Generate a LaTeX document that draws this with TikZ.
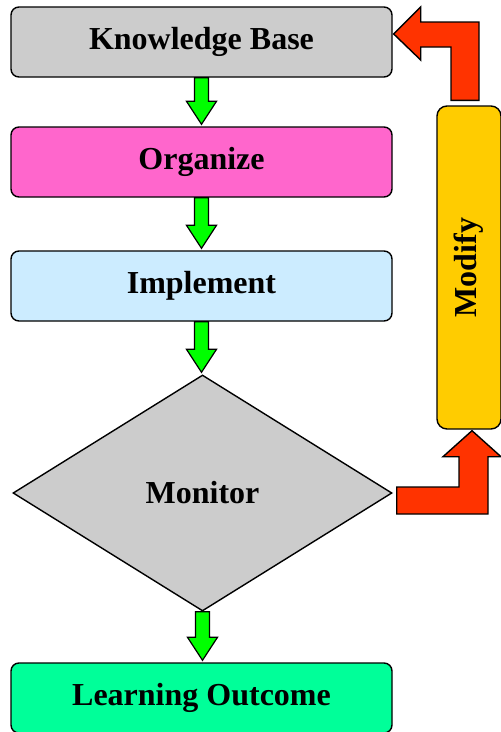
\documentclass[tikz,border=0pt]{standalone}
\usepackage{fontspec}
\setmainfont{Liberation Serif}
\usetikzlibrary{shapes.geometric,calc}

\definecolor{kbgray}{HTML}{CCCCCC}
\definecolor{orgpink}{HTML}{FF66CC}
\definecolor{implblue}{HTML}{CCECFF}
\definecolor{modyellow}{HTML}{FFCC00}
\definecolor{outgreen}{HTML}{00FF99}
\definecolor{flowgreen}{HTML}{00FF00}
\definecolor{loopred}{HTML}{FF3300}

\tikzset{
  labelfont/.style={font=\fontsize{32}{37}\selectfont\bfseries},
  stepbox/.style={draw=black, line width=1.4pt, rounded corners=8pt,
    minimum width=381pt, minimum height=70pt, inner sep=0pt, labelfont},
  flowarrow/.style={draw=black, line width=1.2pt, fill=flowgreen, line join=miter},
  looparrow/.style={draw=black, line width=1.4pt, fill=loopred, line join=miter},
}

% green block arrow pointing down from node #1 to node #2
\newcommand{\flowdown}[2]{%
  \draw[flowarrow] let \p1=(#1.south), \p2=(#2.north) in
    (\x1-7pt,\y1) -- (\x1+7pt,\y1) -- (\x1+7pt,\y2+25pt) -- (\x1+15pt,\y2+25pt)
    -- (\x1,\y2+2pt) -- (\x1-15pt,\y2+25pt) -- (\x1-7pt,\y2+25pt) -- cycle;}

\begin{document}
\begin{tikzpicture}[x=1pt,y=-1pt]
  \useasboundingbox (0,0) rectangle (501,732);
  \clip (0,0) rectangle (501,732);

  \node[stepbox, fill=kbgray]   (kb)   at (201.5,42)  {Knowledge Base};
  \node[stepbox, fill=orgpink]  (org)  at (201.5,162) {Organize};
  \node[stepbox, fill=implblue] (impl) at (201.5,286) {Implement};
  \node[diamond, draw=black, line width=1.4pt, fill=kbgray, inner sep=0pt,
        aspect=1.6, minimum width=379pt, minimum height=236pt, labelfont]
        (mon) at (202.5,493) {Monitor};
  \node[stepbox, fill=outgreen] (out)  at (201.5,698) {Learning Outcome};

  \node[draw=black, line width=1.4pt, fill=modyellow, rounded corners=10pt,
        minimum width=64pt, minimum height=323pt, inner sep=0pt, labelfont]
        (md) at (469,267.5) {\rotatebox{90}{Modify}};

  \flowdown{kb}{org}
  \flowdown{org}{impl}
  \flowdown{impl}{mon}
  \flowdown{mon}{out}

  % bent arrow from the top of Modify back into the Knowledge Base
  \draw[looparrow] let \p1=(md.north), \p2=(kb.east) in
    (\x1+10pt,\y1+5pt) -- (\x1+10pt,\y2+20pt) -- (\x2+28pt,\y2+20pt)
    -- (\x2+28pt,\y2+35pt) -- (\x2+1pt,\y2+8pt) -- (\x2+28pt,\y2-18pt)
    -- (\x2+28pt,\y2-5pt) -- (\x1-18pt,\y2-5pt) -- (\x1-18pt,\y1+5pt) -- cycle;

  % bent arrow from Monitor up into Modify
  \draw[looparrow] let \p1=(mon.east), \p2=(md.south) in
    (\x1+4pt,\y1-21pt) -- (\x2+19pt,\y1-21pt) -- (\x2+19pt,\y2-27pt)
    -- (\x2+32pt,\y2-27pt) -- (\x2+3pt,\y2-1pt) -- (\x2-26pt,\y2-27pt)
    -- (\x2-10pt,\y2-27pt) -- (\x2-10pt,\y1+6pt) -- (\x1+4pt,\y1+6pt) -- cycle;
\end{tikzpicture}
\end{document}
